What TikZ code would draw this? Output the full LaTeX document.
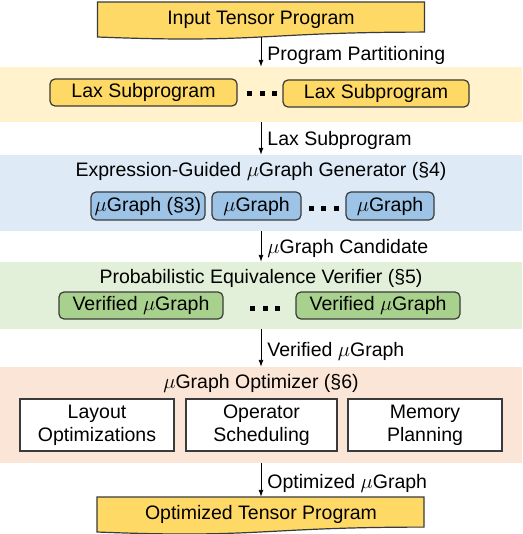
\documentclass[tikz,border=0pt]{standalone}
\usepackage{fontspec}
\setmainfont{Liberation Sans}
\usetikzlibrary{arrows.meta}
\definecolor{gold}{HTML}{FFD966}
\definecolor{bandY}{HTML}{FFF2CC}
\definecolor{bandB}{HTML}{DEEBF7}
\definecolor{boxB}{HTML}{9DC3E6}
\definecolor{bandG}{HTML}{E2F0D9}
\definecolor{boxG}{HTML}{A9D18E}
\definecolor{bandO}{HTML}{FBE5D6}
\definecolor{edge}{HTML}{3A3A3A}
\newcommand\myfont{\fontsize{19.5}{23}\selectfont}
\tikzset{
  band/.style={rectangle, draw=none, minimum width=522pt, inner sep=0pt},
  rbox/.style={rectangle, rounded corners=5pt, draw=edge, line width=1.2pt, inner sep=0pt, font=\myfont},
  wbox/.style={rectangle, draw=edge, line width=1.2pt, fill=white, inner sep=0pt, minimum height=52pt, align=center, font=\myfont},
  docshape/.style={draw=edge, line width=1.2pt, fill=gold},
  doctext/.style={rectangle, inner sep=0pt, minimum width=327pt, minimum height=35pt, font=\myfont},
  flow/.style={-{Latex[length=7pt,width=5pt]}, line width=0.9pt, black},
  lbl/.style={anchor=west, inner sep=0pt, font=\myfont},
  ttl/.style={inner sep=0pt, font=\myfont},
  dotsq/.style={rectangle, fill=black, minimum width=5pt, minimum height=5pt, inner sep=0pt}
}
\begin{document}
\begin{tikzpicture}[x=1pt,y=-1pt]
\useasboundingbox (0,0) rectangle (522,534);
% bands
\node[band, fill=bandY, minimum height=55pt] (band1) at (261,94.5) {};
\node[band, fill=bandB, minimum height=76pt] (band2) at (261,193) {};
\node[band, fill=bandG, minimum height=67pt] (band3) at (261,295.5) {};
\node[band, fill=bandO, minimum height=96pt] (band4) at (261,415) {};
% input document
\draw[docshape] (97.5,2) -- (424.5,2) -- (424.5,32.1) .. controls (261,32.1) and (261,43.5) .. (97.5,37) -- cycle;
\node[doctext] (input) at (261,19.5) {\raisebox{1.5pt}{Input Tensor Program}};
% band 1
\node[rbox, fill=gold, minimum width=187pt, minimum height=27pt] (lax1) at (143.5,92.5) {Lax Subprogram};
\node[rbox, fill=gold, minimum width=186pt, minimum height=27pt] (lax2) at (376,93.5) {Lax Subprogram};
\node[dotsq] (d1a) at (249.5,94) {};
\node[dotsq] (d1b) at (262,94) {};
\node[dotsq] (d1c) at (274.5,94) {};
% band 2
\node[ttl] (t2) at (261,171.5) {Expression-Guided $\mu$Graph Generator (\S4)};
\node[rbox, fill=boxB, minimum width=114pt, minimum height=28pt] (g1) at (148,206) {$\mu$Graph (\S3)};
\node[rbox, fill=boxB, minimum width=89pt, minimum height=28pt] (g2) at (256.5,206) {$\mu$Graph};
\node[rbox, fill=boxB, minimum width=88pt, minimum height=28pt] (g3) at (390,206) {$\mu$Graph};
\node[dotsq] (d2a) at (311,209) {};
\node[dotsq] (d2b) at (323.5,209) {};
\node[dotsq] (d2c) at (336,209) {};
% band 3
\node[ttl] (t3) at (261,278) {Probabilistic Equivalence Verifier (\S5)};
\node[rbox, fill=boxG, minimum width=164pt, minimum height=27pt] (v1) at (141,305.5) {Verified $\mu$Graph};
\node[rbox, fill=boxG, minimum width=164pt, minimum height=27pt] (v2) at (378,305.5) {Verified $\mu$Graph};
\node[dotsq] (d3a) at (252.5,308) {};
\node[dotsq] (d3b) at (265,308) {};
\node[dotsq] (d3c) at (277.5,308) {};
% band 4
\node[ttl] (t4) at (261,383.5) {$\mu$Graph Optimizer (\S6)};
\node[wbox, minimum width=154pt] (o1) at (97,425) {Layout\\Optimizations};
\node[wbox, minimum width=151pt] (o2) at (261.5,425) {Operator\\Scheduling};
\node[wbox, minimum width=154pt] (o3) at (425,425) {Memory\\Planning};
% output document
\draw[docshape] (97,497) -- (424,497) -- (424,527.1) .. controls (260.5,527.1) and (260.5,538.5) .. (97,532) -- cycle;
\node[doctext] (output) at (261,514.5) {\raisebox{2pt}{Optimized Tensor Program}};
% connectors
\draw[flow] (input.south) -- (band1.north) node[midway, lbl, xshift=6pt, yshift=-3pt] {Program Partitioning};
\draw[flow] (band1.south) -- (band2.north) node[midway, lbl, xshift=6pt, yshift=-2pt] {Lax Subprogram};
\draw[flow] (band2.south) -- (band3.north) node[midway, lbl, xshift=6pt, yshift=-2pt] {$\mu$Graph Candidate};
\draw[flow] (band3.south) -- (band4.north) node[midway, lbl, xshift=6pt, yshift=-3pt] {Verified $\mu$Graph};
\draw[flow] (band4.south) -- (output.north) node[midway, lbl, xshift=6pt, yshift=-3pt] {Optimized $\mu$Graph};
\end{tikzpicture}
\end{document}
